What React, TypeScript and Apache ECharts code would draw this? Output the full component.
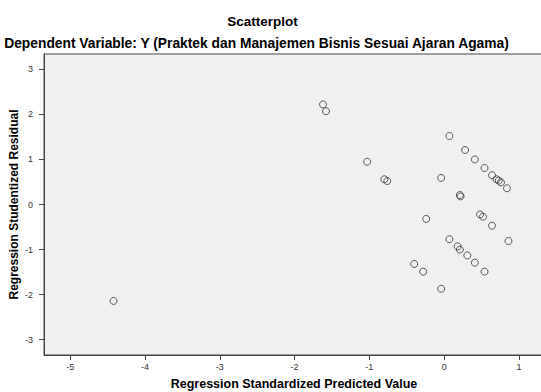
import React, { useEffect, useRef } from "react";
import * as echarts from "echarts";

const predictedValues: number[] = [
  -1.62, -1.58, -1.03, -0.8, -0.76, 0.07, 0.28, 0.41, 0.54, 0.64, 0.7, 0.73, 0.76, 0.84,
  -0.04, 0.21, 0.22, -0.24, 0.48, 0.52, 0.64, 0.07, 0.86, 0.18, 0.21, 0.31, 0.41, -0.4,
  -0.28, 0.54, -0.04, -4.42,
];
const studentizedResiduals: number[] = [
  2.22, 2.07, 0.95, 0.56, 0.52, 1.52, 1.21, 1.0, 0.81, 0.65, 0.56, 0.53, 0.49, 0.36,
  0.59, 0.21, 0.18, -0.32, -0.22, -0.27, -0.47, -0.77, -0.81, -0.93, -1.0, -1.13, -1.29,
  -1.32, -1.49, -1.49, -1.87, -2.14,
];
const xTicks: number[] = [-5, -4, -3, -2, -1, 0, 1];
const yTicks: number[] = [-3, -2, -1, 0, 1, 2, 3];

const titleText = "Scatterplot";
const subtitleText = "Dependent Variable: Y (Praktek dan Manajemen Bisnis Sesuai Ajaran Agama)";
const xAxisTitle = "Regression Standardized Predicted Value";
const yAxisTitle = "Regression Studentized Residual";

const FONT = "'Liberation Sans', Arial, sans-serif";

export default function App() {
  const ref = useRef<HTMLDivElement>(null);
  useEffect(() => {
    if (!ref.current) return;
    const chart = echarts.init(ref.current, null, { renderer: "svg" });
    const data = predictedValues.map((x, i) => [x, studentizedResiduals[i]]);
    chart.setOption({
      animation: false,
      backgroundColor: "#ffffff",
      textStyle: { fontFamily: FONT },
      graphic: [
        {
          type: "text",
          x: 262.5,
          y: 21,
          style: {
            text: titleText,
            align: "center",
            verticalAlign: "middle",
            fontFamily: FONT,
            fontWeight: "bold",
            fontSize: 13.5,
            fill: "#000",
          },
        },
        {
          type: "text",
          x: 256.5,
          y: 43,
          style: {
            text: subtitleText,
            align: "center",
            verticalAlign: "middle",
            fontFamily: FONT,
            fontWeight: "bold",
            fontSize: 13.8,
            fill: "#000",
          },
        },
      ],
      grid: {
        left: 44,
        top: 54,
        width: 500,
        height: 301,
        outerBoundsMode: "none",
        containLabel: false,
        show: true,
        backgroundColor: "#f0f0f0",
        borderColor: "#444",
        borderWidth: 1,
      },
      xAxis: {
        type: "value",
        position: "bottom",
        min: -5.35,
        max: 1.335,
        name: xAxisTitle,
        nameLocation: "middle",
        nameGap: 22,
        nameMoveOverlap: false,
        nameTextStyle: {
          fontFamily: FONT,
          fontWeight: "bold",
          fontSize: 12.5,
          color: "#000",
          verticalAlign: "top",
        },
        axisLine: { show: true, onZero: false, lineStyle: { color: "#444", width: 1 } },
        axisTick: { show: true, inside: false, length: 5, lineStyle: { color: "#444" }, customValues: xTicks },
        axisLabel: { inside: false, customValues: xTicks, fontSize: 9, color: "#333", margin: 7, fontFamily: FONT },
        splitLine: { show: false },
      },
      yAxis: {
        type: "value",
        position: "left",
        min: -3.34,
        max: 3.34,
        name: yAxisTitle,
        nameLocation: "middle",
        nameGap: 24,
        nameRotate: 90,
        nameMoveOverlap: false,
        nameTextStyle: { fontFamily: FONT, fontWeight: "bold", fontSize: 12, color: "#000" },
        axisLine: { show: true, onZero: false, lineStyle: { color: "#444", width: 1 } },
        axisTick: { show: true, inside: false, length: 5, lineStyle: { color: "#444" }, customValues: yTicks },
        axisLabel: {
          inside: false,
          customValues: yTicks,
          fontSize: 9,
          color: "#333",
          margin: 11,
          align: "right",
          fontFamily: FONT,
        },
        splitLine: { show: false },
      },
      series: [
        {
          type: "scatter",
          data,
          symbol: "circle",
          symbolSize: 7,
          itemStyle: { color: "transparent", borderColor: "#333", borderWidth: 1 },
        },
      ],
    });
    return () => chart.dispose();
  }, []);
  return (
    <div
      ref={ref}
      style={{ position: "fixed", left: 0, top: 0, width: 541, height: 392 }}
    />
  );
}
